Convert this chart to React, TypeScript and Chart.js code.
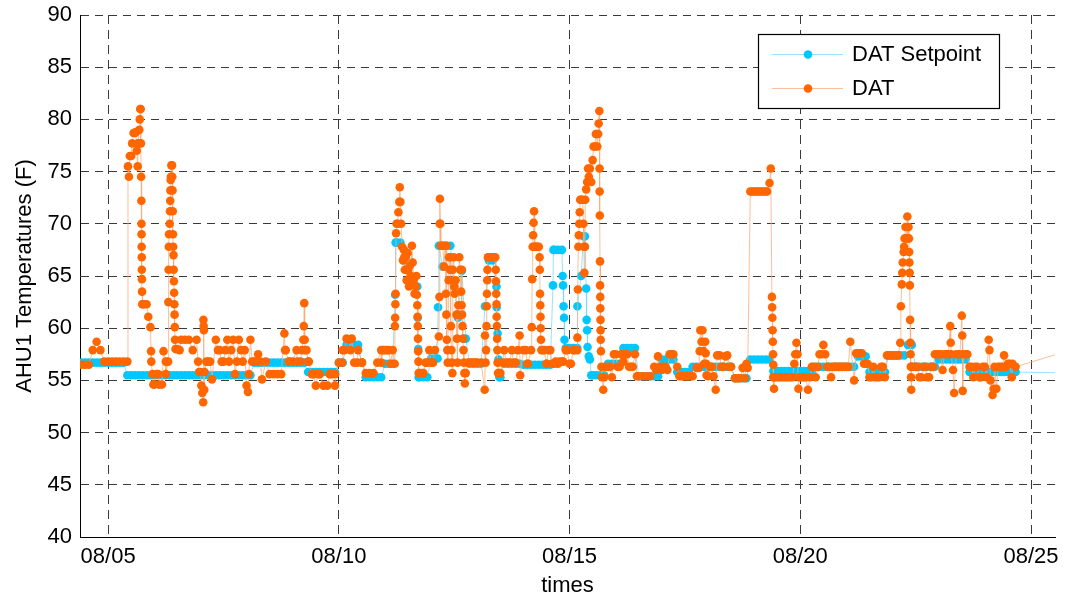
import React, { useEffect, useRef } from 'react';
import { Chart, registerables } from 'chart.js';

Chart.register(...registerables);

// ---- axis ticks ----
const tickDays = [5, 10, 15, 20, 25];
const tickLabels = ['08/05', '08/10', '08/15', '08/20', '08/25'];
const yMin = 40;
const yMax = 90;
const yStep = 5;
const xMinDay = 4.39;
const xMaxDay = 25.52;

// ---- 2-hourly samples (12 per day). First row is 08/04 starting 10:00, others start 00:00 ----
const firstDay = 4;
const firstRowStartSlot = 5;

const datRows: number[][] = [
  [56.5, 56.5, 56.5, 57.9, 58.7, 57.9, 56.8],
  [56.8, 56.8, 56.8, 56.8, 56.8, 56.8, 76.5, 78.7, 77.7, 62.3, 62.3, 60.1],
  [54.6, 55.6, 54.6, 56.8, 70.0, 67.0, 58.0, 58.9, 58.9, 58.9, 57.9, 58.9],
  [55.8, 54.1, 56.8, 55.1, 58.9, 57.9, 56.8, 58.9, 57.9, 55.6, 58.9, 56.8],
  [54.5, 58.9, 56.8, 57.5, 55.1, 56.8, 55.6, 55.6, 55.6, 55.6, 57.9, 56.8],
  [56.8, 57.9, 56.8, 62.4, 56.8, 55.6, 54.5, 55.6, 54.5, 54.5, 55.6, 54.5],
  [56.7, 57.9, 59.0, 57.9, 56.7, 57.9, 56.7, 55.7, 55.7, 55.7, 56.7, 57.9],
  [57.9, 57.9, 57.9, 70.0, 72.1, 66.8, 65.6, 67.9, 64.0, 55.7, 55.7, 56.7],
  [56.7, 57.9, 59.2, 67.9, 67.9, 66.8, 64.0, 61.3, 65.6, 55.7, 56.7, 56.7],
  [56.7, 56.7, 59.3, 66.8, 66.8, 62.3, 55.7, 57.9, 56.7, 57.9, 56.7, 59.3],
  [57.9, 56.6, 57.9, 67.8, 67.8, 57.9, 56.6, 57.9, 56.6, 56.6, 56.8, 57.9],
  [56.6, 57.9, 57.9, 72.3, 67.8, 74.5, 76.1, 78.6, 61.9, 55.3, 56.3, 55.3],
  [57.5, 56.3, 56.8, 57.5, 56.3, 57.5, 55.4, 55.4, 55.4, 55.4, 56.3, 57.3],
  [56.0, 56.3, 57.5, 57.5, 56.3, 55.4, 55.4, 55.4, 55.4, 56.2, 59.8, 56.6],
  [55.4, 56.3, 54.1, 57.4, 56.3, 57.4, 56.3, 55.2, 55.2, 56.2, 56.6, 73.1],
  [73.1, 73.1, 73.1, 73.1, 73.9, 55.3, 55.3, 55.3, 55.3, 55.3, 55.3, 58.6],
  [55.3, 55.3, 54.1, 56.3, 55.3, 57.5, 58.4, 56.3, 55.3, 56.3, 56.3, 56.3],
  [56.3, 58.7, 55.0, 57.6, 57.6, 56.6, 55.3, 56.3, 55.3, 56.3, 55.3, 57.4],
  [57.4, 57.4, 58.6, 67.8, 68.6, 56.3, 56.3, 55.3, 56.3, 55.3, 56.3, 57.5],
  [57.5, 56.0, 57.5, 60.2, 53.8, 57.5, 61.2, 57.5, 56.3, 55.3, 56.3, 55.3],
  [56.3, 58.9, 53.6, 54.2, 56.3, 57.4, 56.6, 55.3, 56.3],
];

const setpointRows: number[][] = [
  [56.7, 56.7, 56.7, 56.7, 56.7, 56.7, 56.7],
  [56.7, 56.7, 56.7, 56.7, 56.7, 55.5, 55.5, 55.5, 55.5, 55.5, 55.5, 55.5],
  [55.5, 55.5, 55.5, 55.5, 55.5, 55.5, 55.5, 55.5, 55.5, 55.5, 55.5, 55.5],
  [55.5, 55.5, 55.5, 55.5, 55.5, 55.5, 55.5, 55.5, 55.5, 55.5, 55.5, 55.5],
  [55.5, 55.5, 56.7, 56.7, 56.7, 56.7, 56.7, 56.7, 56.7, 56.7, 56.7, 56.7],
  [56.7, 56.7, 56.7, 56.7, 55.8, 55.8, 55.8, 55.8, 55.8, 55.8, 55.8, 55.8],
  [56.7, 56.7, 58.4, 58.4, 58.4, 58.4, 56.7, 55.3, 55.3, 55.3, 55.3, 55.3],
  [56.6, 56.6, 56.6, 68.2, 68.2, 66.5, 65.5, 64.5, 64.0, 55.3, 55.3, 55.3],
  [57.1, 57.1, 67.9, 65.9, 67.9, 67.9, 64.0, 61.0, 65.5, 59.0, 56.6, 56.6],
  [56.6, 56.6, 62.1, 66.5, 66.5, 64.0, 55.3, 56.6, 56.6, 56.6, 56.6, 56.6],
  [56.5, 56.5, 56.5, 56.5, 56.5, 56.5, 56.5, 56.5, 67.5, 67.5, 67.5, 58.1],
  [58.1, 58.1, 58.1, 65.0, 68.8, 57.3, 55.5, 55.5, 55.5, 55.5, 56.6, 56.6],
  [56.6, 56.6, 58.1, 58.1, 58.1, 58.1, 55.4, 55.4, 55.4, 55.4, 55.4, 55.4],
  [57.0, 57.0, 57.0, 57.0, 55.8, 55.8, 55.8, 55.8, 56.3, 56.3, 56.3, 56.3],
  [56.3, 56.3, 56.3, 56.3, 56.3, 56.3, 56.3, 55.2, 55.2, 55.2, 55.2, 57.0],
  [57.0, 57.0, 57.0, 57.0, 57.0, 55.9, 55.9, 55.9, 55.9, 55.9, 55.9, 55.9],
  [55.9, 55.9, 55.9, 55.9, 56.3, 56.3, 56.3, 56.3, 56.3, 56.3, 56.3, 56.3],
  [56.3, 56.3, 56.3, 57.3, 57.3, 57.3, 55.8, 55.8, 55.8, 55.8, 55.8, 57.4],
  [57.4, 57.4, 57.4, 57.4, 58.4, 58.4, 56.3, 56.3, 56.3, 56.3, 56.3, 56.3],
  [57.0, 57.0, 57.0, 57.0, 57.0, 57.0, 57.0, 57.0, 55.8, 55.8, 55.8, 55.8],
  [55.8, 55.8, 55.8, 55.8, 55.8, 55.8, 55.8, 55.8, 55.8],
];

// ---- extra (faster) readings as [day of August, value] ----
const datExtra: [number, number][] = [
  [5.43, 75.5], [5.45, 74.5], [5.47, 76.5], [5.52, 77.7], [5.55, 78.7], [5.6, 78.8], [5.62, 77.0], [5.64, 75.5],
  [5.65, 77.7], [5.675, 79.0], [5.685, 80.0], [5.695, 81.0], [5.705, 81.0], [5.71, 77.7], [5.715, 74.5], [5.72, 72.2],
  [5.722, 70.0], [5.724, 69.0], [5.726, 67.8], [5.728, 66.8], [5.73, 65.6], [5.732, 64.7], [5.735, 63.5], [5.74, 62.3],
  [5.79, 62.3], [5.87, 61.1], [5.93, 57.8], [5.935, 56.8], [5.96, 55.6], [5.98, 54.6],
  [6.05, 55.6], [6.1, 54.6], [6.2, 57.8], [6.25, 55.6], [6.3, 56.8], [6.305, 62.5], [6.31, 65.6], [6.315, 67.8],
  [6.32, 69.0], [6.34, 71.2], [6.345, 72.2], [6.35, 73.2], [6.355, 74.2], [6.36, 74.5], [6.37, 75.6], [6.385, 75.6],
  [6.39, 74.5], [6.395, 73.2], [6.4, 71.2], [6.405, 69.0], [6.41, 67.8], [6.42, 65.6], [6.425, 64.5], [6.43, 63.4],
  [6.435, 62.3], [6.44, 61.3], [6.445, 60.1], [6.45, 58.9], [6.46, 58.0], [6.55, 57.9], [6.95, 56.8], [6.97, 55.8],
  [7.02, 54.5], [7.04, 53.8], [7.06, 52.9], [7.065, 60.8], [7.07, 60.2], [7.075, 59.8], [7.09, 55.8], [7.13, 56.8],
  [7.21, 56.8], [7.38, 57.9], [7.46, 56.8], [7.54, 57.9], [7.62, 56.8], [7.71, 58.9], [7.79, 56.8], [7.88, 57.9],
  [7.96, 57.9], [8.03, 53.9], [8.05, 55.6], [8.12, 56.8], [8.21, 56.8], [8.3, 56.8], [8.82, 59.5], [8.85, 57.9],
  [8.92, 56.8], [9.1, 56.8], [9.2, 57.9], [9.23, 58.9], [9.24, 60.2], [9.26, 58.9], [9.27, 57.9], [9.3, 57.9],
  [9.35, 56.8], [9.45, 55.6], [9.55, 55.6], [9.8, 55.6], [9.92, 55.6],
  [10.07, 56.7], [10.12, 57.9], [10.22, 58.9], [10.28, 59.0], [10.4, 56.7], [10.5, 56.7], [10.92, 56.7], [10.96, 57.9],
  [11.05, 57.9], [11.12, 56.6], [11.21, 56.6], [11.215, 60.2], [11.22, 61.0], [11.225, 62.3], [11.23, 63.3], [11.24, 69.1],
  [11.27, 70.0], [11.29, 71.1], [11.31, 72.1], [11.32, 73.5], [11.35, 70.0], [11.37, 67.8], [11.39, 66.5], [11.41, 67.5],
  [11.43, 65.6], [11.45, 66.8], [11.47, 64.6], [11.49, 67.2], [11.52, 64.0], [11.54, 66.0], [11.56, 65.0], [11.6, 66.3],
  [11.62, 64.6], [11.64, 63.3], [11.68, 65.0], [11.69, 63.2], [11.7, 62.2], [11.705, 61.1], [11.71, 60.2], [11.715, 59.0],
  [11.72, 57.8], [11.725, 56.8], [11.73, 55.7], [11.8, 55.7], [11.88, 56.7], [11.96, 57.9],
  [12.04, 56.7], [12.18, 63.0], [12.185, 70.0], [12.19, 72.4], [12.2, 70.0], [12.21, 67.9], [12.23, 67.9], [12.28, 65.9],
  [12.3, 67.9], [12.32, 63.3], [12.33, 61.3], [12.34, 58.9], [12.35, 57.9], [12.36, 56.7], [12.38, 64.6], [12.39, 66.8],
  [12.41, 65.6], [12.43, 60.2], [12.44, 57.9], [12.45, 56.7], [12.46, 55.7], [12.47, 65.6], [12.49, 66.8], [12.51, 63.3],
  [12.53, 64.6], [12.55, 61.3], [12.56, 59.0], [12.57, 56.7], [12.59, 62.2], [12.61, 66.8], [12.63, 65.6], [12.65, 63.5],
  [12.66, 62.2], [12.67, 61.3], [12.68, 60.2], [12.69, 59.0], [12.7, 57.9], [12.71, 56.7], [12.72, 55.7], [12.73, 54.7],
  [12.8, 56.7], [12.88, 56.7], [12.96, 56.7],
  [13.16, 54.1], [13.18, 56.7], [13.19, 57.9], [13.2, 60.2], [13.205, 62.1], [13.21, 63.3], [13.215, 64.6], [13.22, 65.6],
  [13.23, 66.8], [13.29, 66.8], [13.36, 66.8], [13.39, 66.8], [13.4, 65.6], [13.405, 64.5], [13.41, 63.3], [13.42, 61.1],
  [13.425, 60.2], [13.43, 59.0], [13.435, 57.9], [13.44, 56.7], [13.45, 55.7], [13.47, 55.7], [13.55, 56.7], [13.62, 56.7],
  [13.7, 56.7], [13.78, 56.7], [13.88, 57.9], [13.93, 55.5],
  [14.05, 57.9], [14.1, 56.6], [14.18, 60.1], [14.19, 64.7], [14.2, 67.8], [14.21, 68.9], [14.22, 70.1], [14.23, 71.2],
  [14.24, 67.8], [14.28, 67.8], [14.31, 67.8], [14.35, 66.8], [14.355, 65.6], [14.36, 63.3], [14.365, 62.2], [14.37, 61.1],
  [14.375, 60.0], [14.38, 58.9], [14.39, 57.9], [14.45, 57.9], [14.5, 56.6], [14.54, 57.9], [14.62, 56.6], [14.7, 56.8],
  [14.78, 56.8], [14.86, 56.8], [14.94, 57.9],
  [15.03, 56.6], [15.1, 57.9], [15.17, 59.1], [15.18, 63.7], [15.19, 67.8], [15.2, 68.9], [15.21, 70.0], [15.22, 71.1],
  [15.23, 72.3], [15.28, 72.3], [15.3, 70.0], [15.31, 67.8], [15.32, 65.3], [15.34, 72.3], [15.36, 73.3], [15.38, 74.0],
  [15.4, 75.3], [15.44, 75.3], [15.47, 74.0], [15.52, 77.4], [15.55, 77.4], [15.57, 78.6], [15.6, 77.4], [15.62, 78.6],
  [15.63, 79.6], [15.645, 80.8], [15.65, 75.3], [15.652, 73.1], [15.655, 70.8], [15.66, 66.4], [15.662, 64.1], [15.665, 63.0],
  [15.67, 60.8], [15.672, 59.8], [15.675, 58.9], [15.68, 57.8], [15.69, 56.3], [15.7, 55.3], [15.73, 54.1], [15.78, 56.3],
  [15.88, 56.3], [15.96, 57.5],
  [16.04, 56.3], [16.12, 57.5], [16.2, 57.5], [16.29, 56.3], [16.37, 56.3], [16.46, 55.4], [16.88, 56.0], [16.96, 56.3],
  [17.04, 56.3], [17.12, 56.0], [17.21, 57.5], [17.38, 55.4], [17.46, 55.4], [17.55, 55.4], [17.63, 55.4], [17.8, 56.2],
  [17.82, 57.8], [17.86, 58.7], [17.88, 59.8], [17.9, 57.8], [17.94, 58.7], [17.95, 57.6], [17.96, 56.6], [17.97, 55.5],
  [18.04, 56.3], [18.12, 55.4], [18.2, 57.4], [18.29, 56.3], [18.38, 57.3], [18.46, 56.3], [18.62, 55.2], [18.7, 55.2],
  [18.8, 55.2], [18.86, 56.2], [18.96, 73.1],
  [19.04, 73.1], [19.12, 73.1], [19.2, 73.1], [19.28, 73.1], [19.36, 75.3], [19.385, 63.0], [19.39, 62.0], [19.395, 61.0],
  [19.4, 59.8], [19.405, 58.7], [19.41, 57.5], [19.415, 56.5], [19.42, 55.3], [19.43, 54.2], [19.45, 55.3], [19.54, 55.3],
  [19.62, 55.3], [19.7, 55.3], [19.79, 55.3], [19.87, 56.6], [19.89, 57.5], [19.94, 57.5], [19.96, 54.2], [19.98, 55.3],
  [20.04, 55.3], [20.12, 55.3], [20.21, 55.3], [20.29, 56.3], [20.38, 56.3], [20.46, 57.5], [20.54, 57.5], [20.62, 56.3],
  [20.71, 56.3], [20.79, 56.3], [20.88, 56.3], [20.96, 56.3],
  [21.04, 56.3], [21.21, 57.6], [21.29, 57.6], [21.38, 56.6], [21.46, 56.6], [21.54, 55.3], [21.62, 55.3], [21.71, 55.3],
  [21.79, 56.3], [21.88, 57.4], [21.96, 57.4],
  [22.04, 57.4], [22.12, 57.4], [22.18, 62.1], [22.2, 64.2], [22.21, 65.3], [22.22, 66.3], [22.24, 67.3], [22.26, 68.6],
  [22.28, 69.7], [22.3, 68.6], [22.32, 70.7], [22.345, 69.7], [22.355, 68.6], [22.36, 67.3], [22.365, 66.3], [22.37, 65.3],
  [22.375, 64.1], [22.38, 60.8], [22.385, 58.6], [22.39, 57.5], [22.395, 56.3], [22.4, 55.3], [22.405, 54.1], [22.41, 56.3],
  [22.46, 56.3], [22.54, 56.3], [22.62, 55.3], [22.71, 56.3], [22.79, 55.3], [22.88, 56.3], [22.96, 57.5],
  [23.04, 57.5], [23.12, 57.5], [23.21, 57.5], [23.26, 58.6], [23.27, 57.5], [23.31, 56.0], [23.38, 57.5], [23.46, 57.5],
  [23.51, 59.3], [23.52, 54.0], [23.54, 57.5], [23.62, 57.5], [23.71, 56.3], [23.79, 56.3], [23.88, 55.3], [23.96, 56.3],
  [24.04, 55.3], [24.1, 57.9], [24.12, 55.0], [24.19, 54.2], [24.21, 56.3], [24.29, 56.3], [24.38, 56.3], [24.46, 56.3],
  [24.54, 56.6], [24.6, 56.6], [26.0, 58.1],
];

const setpointExtra: [number, number][] = [
  [11.22, 63.2], [11.23, 68.2], [11.7, 64.0], [11.71, 61.0], [11.72, 58.0], [11.73, 55.3],
  [12.14, 57.1], [12.15, 62.0],
  [13.42, 62.0], [13.44, 59.5], [13.46, 57.0], [13.48, 55.3],
  [14.64, 64.1], [14.65, 67.5], [14.85, 65.0], [14.86, 64.1], [14.87, 62.1], [14.88, 61.0], [14.89, 58.9],
  [15.17, 62.1], [15.3, 68.8], [15.33, 67.8], [15.36, 63.8], [15.37, 60.8], [15.38, 59.8], [15.39, 58.2],
  [15.44, 57.0], [15.47, 55.5],
  [26.0, 55.7],
];

const seriesLabels = ['DAT Setpoint', 'DAT'];
const markerColors = ['#00c8ff', '#ff6600'];
const lineColors = ['rgba(120, 215, 250, 0.75)', 'rgba(250, 170, 120, 0.75)'];

function buildSeries(rows: number[][], extra: [number, number][]) {
  const pts: { x: number; y: number }[] = [];
  rows.forEach((row, r) => {
    const start = r === 0 ? firstRowStartSlot : 0;
    row.forEach((v, j) => {
      pts.push({ x: firstDay + r + (start + j) / 12, y: v });
    });
  });
  extra.forEach(([t, v]) => pts.push({ x: t, y: v }));
  pts.sort((a, b) => a.x - b.x);
  return pts;
}

const FONT = '"Liberation Sans", Arial, Helvetica, sans-serif';

const boxLegend = {
  id: 'boxLegend',
  afterDraw(chart: any) {
    const ctx = chart.ctx as CanvasRenderingContext2D;
    ctx.save();
    const bx = 758, by = 34, bw = 241, bh = 74;
    ctx.fillStyle = '#ffffff';
    ctx.fillRect(bx, by, bw, bh);
    ctx.strokeStyle = '#000000';
    ctx.lineWidth = 1.2;
    ctx.setLineDash([]);
    ctx.strokeRect(bx + 0.5, by + 0.5, bw, bh);
    chart.data.datasets.forEach((ds: any, i: number) => {
      const y = 54 + i * 34;
      ctx.strokeStyle = lineColors[i];
      ctx.lineWidth = 1;
      ctx.beginPath();
      ctx.moveTo(772, y + 0.5);
      ctx.lineTo(843, y + 0.5);
      ctx.stroke();
      ctx.fillStyle = markerColors[i];
      ctx.beginPath();
      ctx.arc(808, y + 0.5, 4.3, 0, Math.PI * 2);
      ctx.fill();
      ctx.fillStyle = '#000000';
      ctx.font = `22px ${FONT}`;
      ctx.textBaseline = 'middle';
      ctx.textAlign = 'left';
      ctx.fillText(ds.label, 852, y + 1);
    });
    ctx.restore();
  },
};

export default function App() {
  const canvasRef = useRef<HTMLCanvasElement | null>(null);

  useEffect(() => {
    if (!canvasRef.current) return;
    const setpoint = buildSeries(setpointRows, setpointExtra);
    const dat = buildSeries(datRows, datExtra);
    const chart = new Chart(canvasRef.current, {
      type: 'line',
      data: {
        datasets: [
          {
            label: seriesLabels[0],
            data: setpoint,
            borderColor: lineColors[0],
            borderWidth: 1,
            pointRadius: 4.3,
            pointBorderWidth: 0,
            pointBackgroundColor: markerColors[0],
            pointBorderColor: markerColors[0],
            tension: 0,
            order: 1,
          },
          {
            label: seriesLabels[1],
            data: dat,
            borderColor: lineColors[1],
            borderWidth: 1,
            pointRadius: 4.3,
            pointBorderWidth: 0,
            pointBackgroundColor: markerColors[1],
            pointBorderColor: markerColors[1],
            tension: 0,
            order: 0,
          },
        ],
      },
      plugins: [boxLegend],
      options: {
        animation: false,
        responsive: false,
        devicePixelRatio: 1,
        events: [],
        layout: { padding: { top: 15, right: 12, left: 0, bottom: 0 } },
        plugins: {
          legend: { display: false },
          tooltip: { enabled: false },
          title: { display: false },
        },
        scales: {
          x: {
            type: 'linear',
            min: xMinDay,
            max: xMaxDay,
            afterBuildTicks: (axis: any) => {
              axis.ticks = tickDays.map((v) => ({ value: v }));
            },
            afterFit: (scale: any) => {
              scale.height = 67;
              scale.paddingLeft = 0;
              scale.paddingRight = 0;
            },
            ticks: {
              autoSkip: false,
              maxRotation: 0,
              padding: 7,
              color: '#000',
              font: { family: FONT, size: 22 },
              callback: (value: any) => {
                const i = tickDays.indexOf(Number(value));
                return i >= 0 ? tickLabels[i] : '';
              },
            },
            grid: { color: '#3a3a3a', lineWidth: 1, drawTicks: false },
            border: { display: true, color: '#000', width: 1, dash: [9, 6] },
            title: {
              display: true,
              text: 'times',
              color: '#000',
              font: { family: FONT, size: 22 },
              padding: { top: 0, bottom: 5 },
            },
          },
          y: {
            min: yMin,
            max: yMax,
            afterFit: (scale: any) => {
              scale.width = 80;
              scale.paddingTop = 0;
              scale.paddingBottom = 0;
            },
            ticks: {
              stepSize: yStep,
              padding: 8,
              color: '#000',
              font: { family: FONT, size: 22 },
            },
            grid: { color: '#3a3a3a', lineWidth: 1, drawTicks: false },
            border: { display: true, color: '#000', width: 1, dash: [8, 6] },
            title: {
              display: true,
              text: 'AHU1 Temperatures (F)',
              color: '#000',
              font: { family: FONT, size: 22 },
              padding: { top: 12, bottom: 0 },
            },
          },
        },
      },
    });
    return () => chart.destroy();
  }, []);

  return (
    <div style={{ position: 'absolute', left: 0, top: 0, width: 1067, height: 604, background: '#fff' }}>
      <canvas ref={canvasRef} width={1067} height={604} style={{ display: 'block' }} />
    </div>
  );
}
